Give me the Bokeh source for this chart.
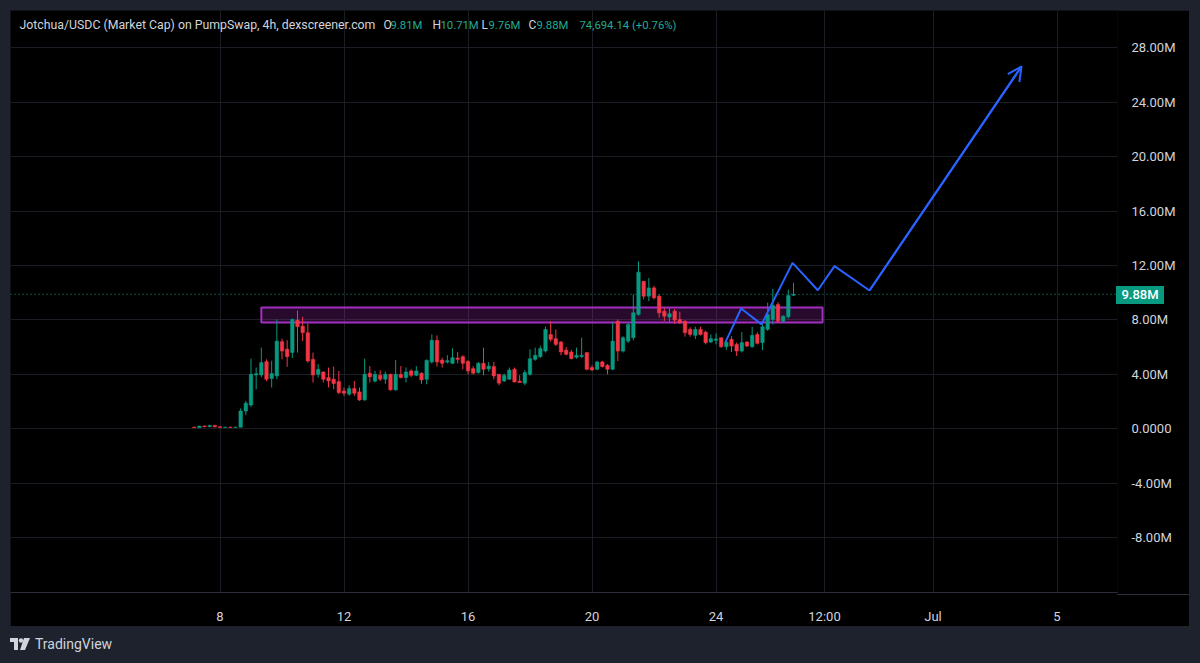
import numpy as np
import pandas as pd
from bokeh.plotting import figure
from bokeh.models import (FixedTicker, Span, Label, Arrow, OpenHead, Div, ColumnDataSource)
from bokeh.layouts import column
from bokeh.embed import file_html
from bokeh.resources import INLINE

# ---------------- data ----------------
first_candle = "2025-06-07 04:00"   # 4h candles
opens = [0.12,0.08,0.20,0.15,0.24,0.14,0.10,0.12,0.10,
         0.12,1.30,1.74,3.95,3.95,4.93,3.69,3.88,6.40,5.85,5.60,
         7.98,7.54,7.06,5.10,4.00,4.17,3.76,3.64,3.47,2.78,
         2.54,2.96,2.71,2.12,4.08,3.50,3.93,3.64,4.00,2.86,
         4.00,3.76,4.25,3.93,4.08,3.64,4.91,6.50,5.05,4.90,
         4.81,5.20,5.30,4.94,4.42,4.13,4.81,4.40,4.57,4.00,
         3.51,3.64,4.37,3.50,3.35,4.00,5.10,5.30,5.71,6.93,
         6.62,6.37,5.78,5.64,5.25,5.30,5.59,4.50,4.37,4.91,
         4.66,4.37,7.90,5.71,6.44,6.69,8.40,10.84,9.74,10.35,
         9.74,8.64,8.20,8.64,8.03,7.90,7.30,6.86,7.30,7.10,
         6.37,6.50,6.69,6.03,6.57,6.20,5.71,6.37,6.03,6.93,
         6.33,7.30,8.03,9.13,7.90,8.23,9.81]
highs = [0.15,0.22,0.25,0.30,0.30,0.18,0.14,0.15,0.14,
         1.50,2.05,5.15,4.50,5.96,5.10,5.00,8.03,6.62,6.50,8.10,
         8.69,8.23,7.74,5.60,4.74,4.22,4.50,4.57,4.25,3.03,
         3.20,3.51,3.03,5.15,4.61,4.25,4.30,4.20,4.05,5.05,
         4.61,4.50,4.37,4.60,4.15,5.10,6.93,6.86,5.22,5.40,
         5.91,5.64,5.40,5.05,4.60,4.90,5.96,4.90,4.91,4.00,
         4.05,4.50,4.50,3.93,4.30,5.84,5.96,6.10,7.50,7.90,
         7.30,6.45,6.00,5.80,5.96,6.69,5.64,4.66,5.00,5.00,
         4.75,7.79,8.03,6.80,7.80,9.86,12.30,10.84,11.08,10.50,
         9.90,8.90,8.90,8.80,8.60,7.98,7.45,7.50,7.50,7.20,
         6.93,7.00,6.69,6.45,6.80,6.33,7.10,6.45,7.50,7.10,
         7.66,9.26,10.28,9.30,8.35,10.23,10.71]
lows = [0.05,0.06,0.12,0.12,0.10,0.06,0.05,0.06,0.05,
        0.10,1.00,1.60,2.90,3.80,3.50,3.03,3.64,5.10,4.55,5.20,
        5.60,6.44,4.86,3.40,3.76,3.40,3.03,2.90,2.54,2.42,
        2.42,2.42,2.05,2.05,3.40,3.40,3.50,3.30,2.80,2.80,
        3.70,3.40,3.80,3.86,3.30,3.27,4.80,4.57,4.50,4.80,
        4.75,4.80,4.37,4.00,4.00,4.05,3.93,4.20,3.64,3.20,
        3.43,3.60,3.40,3.40,3.20,3.90,5.00,5.20,5.60,6.40,
        6.08,5.40,5.40,5.10,5.15,5.20,4.30,4.25,4.30,4.50,
        4.00,4.30,4.98,5.60,6.30,6.50,8.30,9.50,9.37,9.50,
        8.16,7.90,7.80,7.70,7.70,6.77,6.77,6.60,6.86,6.20,
        6.30,6.20,5.95,5.80,5.64,5.35,5.60,6.00,5.95,6.20,
        5.78,7.20,7.66,7.80,7.80,8.10,9.76]
closes = [0.08,0.20,0.15,0.24,0.14,0.10,0.12,0.10,0.12,
          1.30,1.88,4.00,4.05,4.86,3.64,4.06,6.44,5.71,5.30,8.03,
          7.50,7.06,4.98,3.95,4.37,3.64,3.51,3.32,2.66,2.61,
          2.96,2.61,2.12,4.00,3.81,4.00,3.64,4.00,2.86,4.00,
          3.76,4.17,3.93,4.25,3.59,5.03,6.50,4.91,4.81,5.00,
          5.22,5.10,4.81,4.25,4.08,4.81,4.37,4.60,3.88,3.35,
          3.93,4.32,3.44,3.40,4.13,5.15,5.40,5.89,7.30,6.57,
          6.20,5.64,5.47,5.15,5.40,5.40,4.37,4.32,4.91,4.57,
          4.37,6.44,5.71,6.69,7.66,8.52,11.50,9.74,10.35,9.62,
          8.52,8.27,8.45,7.98,7.79,7.06,6.93,7.30,6.93,6.33,
          6.62,6.60,6.03,6.37,6.08,5.71,6.33,6.08,6.86,6.28,
          7.50,8.40,9.06,7.90,8.27,9.79,9.88]

last_price = 9.88
last_price_label = "9.88M"
zone_start, zone_end = "2025-06-09 08:00", "2025-06-27 10:30"
zone_low, zone_high = 7.81, 8.91
path_times = ["2025-06-24 07:20", "2025-06-24 19:30", "2025-06-25 11:15", "2025-06-26 11:15",
              "2025-06-27 06:50", "2025-06-27 19:45", "2025-06-28 22:50", "2025-07-03 20:30"]
path_values = [6.37, 8.84, 7.67, 12.19, 10.18, 11.95, 10.16, 26.62]

y_ticks = [-8, -4, 0, 4, 8, 12, 16, 20, 24, 28]
y_tick_labels = ["-8.00M", "-4.00M", "0.0000", "4.00M", "8.00M", "12.00M", "16.00M", "20.00M", "24.00M", "28.00M"]
x_tick_dates = ["2025-06-08", "2025-06-12", "2025-06-16", "2025-06-20", "2025-06-24",
                "2025-06-27 12:00", "2025-07-01", "2025-07-05"]
x_tick_labels = ["8", "12", "16", "20", "24", "12:00", "Jul", "5"]

header_parts = [
    ("Jotchua/USDC (Market Cap) on PumpSwap, 4h, dexscreener.com", 19, "#d1d4dc", "12.3px"),
    ("O", 383, "#d1d4dc", "12px"), ("9.81M", 390, "#22ab94", "11.3px"),
    ("H", 432, "#d1d4dc", "12px"), ("10.71M", 440, "#22ab94", "11.3px"),
    ("L", 481, "#d1d4dc", "12px"), ("9.76M", 488, "#22ab94", "11.3px"),
    ("C", 528, "#d1d4dc", "12px"), ("9.88M", 536, "#22ab94", "11.3px"),
    ("74,694.14 (+0.76%)", 579, "#22ab94", "11.3px"),
]

# ---------------- helpers ----------------
def ms(s):
    return pd.Timestamp(s).value / 1e6

DAY = 86400000.0
T8 = ms("2025-06-08")
PX8, PX_DAY = 219.5, 31.0          # page px of Jun 8 and px per day
Y0_PX, PX_M = 429.7, 13.656         # page px of 0 and px per million

def px_x(px):
    return T8 + (px - PX8) / PX_DAY * DAY

def px_y(py):
    return (Y0_PX - py) / PX_M

GREEN = "#089981"
RED = "#f23645"
TXT = "#d1d4dc"
FONT = "Roboto"

t0 = ms(first_candle)
times = [t0 + i * 4 * 3600 * 1000 for i in range(len(opens))]
up = [c >= o for o, c in zip(opens, closes)]
src = ColumnDataSource(dict(
    x=times, o=opens, h=highs, l=lows, c=closes,
    top=[max(o, c) for o, c in zip(opens, closes)],
    bottom=[min(o, c) for o, c in zip(opens, closes)],
    color=[GREEN if u else RED for u in up],
))

# ---------------- figure ----------------
p = figure(width=1179, height=616, x_axis_type="datetime", y_axis_location="right",
           x_range=(px_x(10), px_x(1117)), y_range=(px_y(594), px_y(10)),
           output_backend="svg", toolbar_location=None,
           background_fill_color="#000000", border_fill_color="#000000",
           min_border_left=0, min_border_top=0, min_border_right=72, min_border_bottom=32)
p.margin = (10, 11, 0, 10)
p.outline_line_color = None

p.xgrid.grid_line_color = "#1b1d24"
p.ygrid.grid_line_color = "#1b1d24"

p.xaxis.ticker = FixedTicker(ticks=[ms(d) for d in x_tick_dates])
p.xaxis.major_label_overrides = {ms(d): lab for d, lab in zip(x_tick_dates, x_tick_labels)}
p.yaxis.ticker = FixedTicker(ticks=y_ticks)
p.yaxis.major_label_overrides = {t: lab for t, lab in zip(y_ticks, y_tick_labels)}
for ax in (p.xaxis[0], p.yaxis[0]):
    ax.major_tick_line_color = None
    ax.minor_tick_line_color = None
    ax.major_label_text_color = TXT
    ax.major_label_text_font = FONT
    ax.major_label_text_font_size = "13px"
p.xaxis.axis_line_color = "#2a2e39"
p.yaxis.axis_line_color = None
p.xaxis.major_label_standoff = 10
p.yaxis.major_label_standoff = 8

# zone
p.quad(left=[ms(zone_start)], right=[ms(zone_end)], bottom=[zone_low], top=[zone_high],
       fill_color="#9c27b0", fill_alpha=0.25, line_color="#a22fc0", line_width=2)

# price line
p.add_layout(Span(location=last_price, dimension="width", line_color=GREEN,
                  line_dash="1 3", line_width=1))

# candles
p.segment(x0="x", x1="x", y0="l", y1="h", color="color", line_width=1, source=src)
p.vbar(x="x", width=4 * 3600 * 1000 * 0.68, top="top", bottom="bottom",
       fill_color="color", line_color="color", line_width=0.5, source=src)

# projection path
px_times = [ms(t) for t in path_times]
p.line(px_times, path_values, line_color="#2962ff", line_width=2)
p.add_layout(Arrow(end=OpenHead(size=14, line_color="#2962ff", line_width=2),
                   x_start=px_times[-2], y_start=path_values[-2],
                   x_end=px_times[-1], y_end=path_values[-1],
                   line_color="#2962ff", line_width=2))

# header
for text, xp, col, fs in header_parts:
    p.add_layout(Label(x=px_x(xp), y=px_y(25), text=text, text_color=col,
                       text_font=FONT, text_font_size=fs, text_baseline="middle"))

# last price tag (sits on the price scale, outside the plot frame)
tag_top = round(Y0_PX - last_price * PX_M) - 9
tag = Div(text=last_price_label, width=48, height=18,
          styles={"position": "absolute", "left": "1116px", "top": f"{tag_top}px",
                  "background-color": GREEN, "color": "#ffffff",
                  "font-family": "Roboto, sans-serif", "font-size": "13px",
                  "font-weight": "500",
                  "line-height": "18px", "text-align": "center", "z-index": "10"})
tag.margin = 0
sep = Div(text="", width=72, height=1,
          styles={"position": "absolute", "left": "1117px", "top": "594px",
                  "background-color": "#2a2e39", "z-index": "10"})
sep.margin = 0

logo = Div(text=(
    '<div style="display:flex;align-items:center;gap:5px;color:#d1d4dc;'
    'font-family:Roboto, sans-serif;font-size:14px;">'
    '<svg width="20" height="13" viewBox="0 0 20 13">'
    '<rect x="0" y="0" width="8" height="4" fill="#d1d4dc"/>'
    '<rect x="4" y="0" width="4" height="12" fill="#d1d4dc"/>'
    '<circle cx="11" cy="2.5" r="2.2" fill="#d1d4dc"/>'
    '<polygon points="14,0 20,0 15,12 10,12" fill="#d1d4dc"/>'
    '</svg><span>TradingView</span></div>'),
    width=200, height=24)
logo.margin = (8, 0, 0, 10)

layout = column(p, logo, tag, sep, width=1200, height=663,
                styles={"background-color": "#1e222d", "position": "relative"})

open("out.html", "w").write(file_html(layout, INLINE))
